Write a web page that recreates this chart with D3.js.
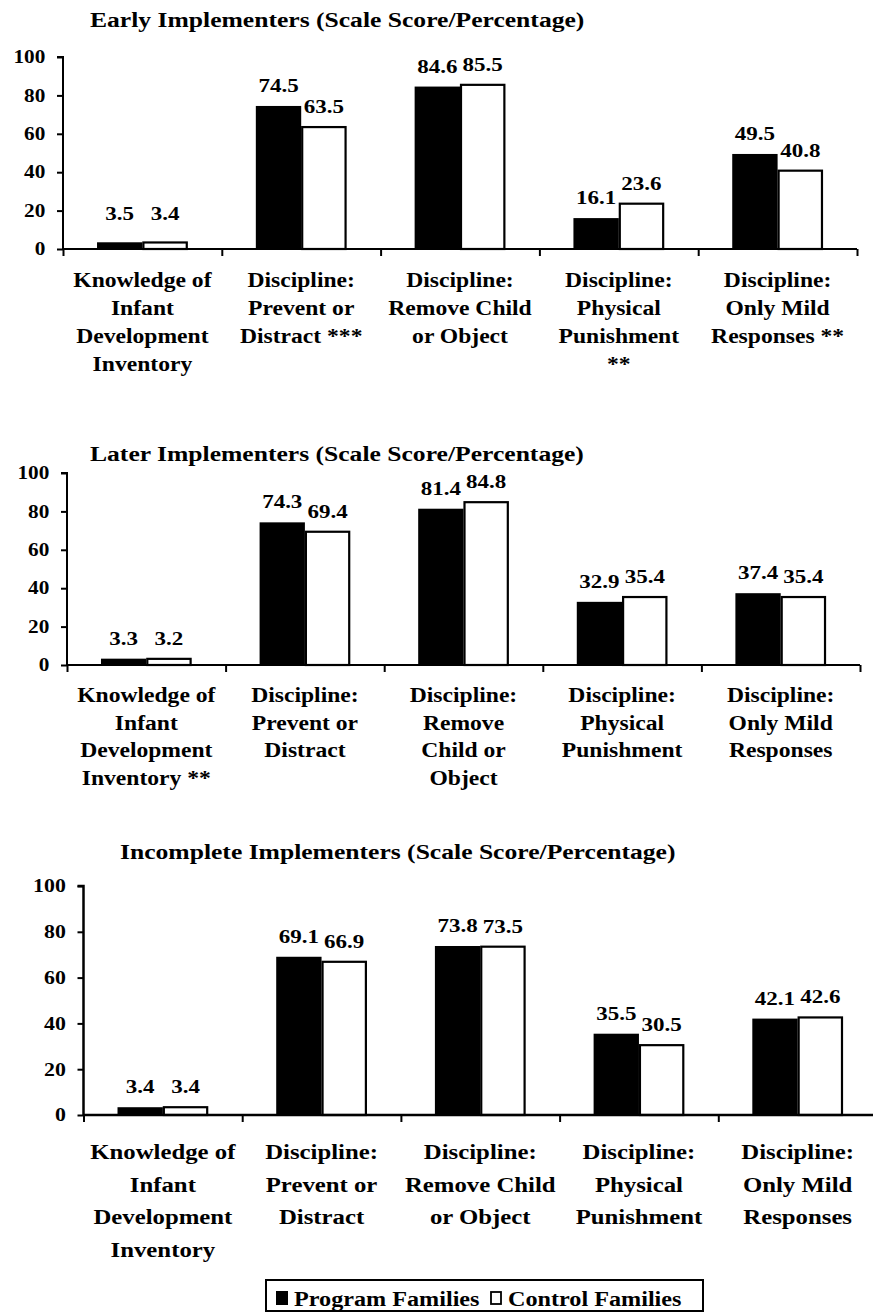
<!DOCTYPE html>
<html><head><meta charset="utf-8">
<script src="https://cdn.jsdelivr.net/npm/d3@7"></script>
<style>
html,body{margin:0;padding:0;background:#fff;}
svg text{font-family:"Liberation Serif","Times New Roman",serif;font-weight:bold;fill:#000;}
</style></head>
<body>
<svg id="chart" width="873" height="1313"></svg>
<script>
// ---------------- DATA ----------------
const seriesNames = ["Program Families", "Control Families"];
const yTicks = [0, 20, 40, 60, 80, 100];

const titles = [
  "Early Implementers (Scale Score/Percentage)",
  "Later Implementers (Scale Score/Percentage)",
  "Incomplete Implementers (Scale Score/Percentage)"
];

const categoriesEarly = [
  ["Knowledge of", "Infant", "Development", "Inventory"],
  ["Discipline:", "Prevent or", "Distract ***"],
  ["Discipline:", "Remove Child", "or Object"],
  ["Discipline:", "Physical", "Punishment", "**"],
  ["Discipline:", "Only Mild", "Responses **"]
];
const programEarly = [3.5, 74.5, 84.6, 16.1, 49.5];
const controlEarly = [3.4, 63.5, 85.5, 23.6, 40.8];

const categoriesLater = [
  ["Knowledge of", "Infant", "Development", "Inventory **"],
  ["Discipline:", "Prevent or", "Distract"],
  ["Discipline:", "Remove", "Child or", "Object"],
  ["Discipline:", "Physical", "Punishment"],
  ["Discipline:", "Only Mild", "Responses"]
];
const programLater = [3.3, 74.3, 81.4, 32.9, 37.4];
const controlLater = [3.2, 69.4, 84.8, 35.4, 35.4];

const categoriesIncomplete = [
  ["Knowledge of", "Infant", "Development", "Inventory"],
  ["Discipline:", "Prevent or", "Distract"],
  ["Discipline:", "Remove Child", "or Object"],
  ["Discipline:", "Physical", "Punishment"],
  ["Discipline:", "Only Mild", "Responses"]
];
const programIncomplete = [3.4, 69.1, 73.8, 35.5, 42.1];
const controlIncomplete = [3.4, 66.9, 73.5, 30.5, 42.6];

// ---------------- LAYOUT ----------------
const SX = 1.18; // horizontal stretch of the scanned lettering
const panels = [
  {title: titles[0], cats: categoriesEarly, prog: programEarly, ctrl: controlEarly,
   left: 63, right: 857, top: 57, bottom: 249, titleX: 90, titleY: 27,
   labY: 287, labDy: 28, axisW: 2, labMin: 8, tickFont: 18, catFont: 20, valFont: 19.5},
  {title: titles[1], cats: categoriesLater, prog: programLater, ctrl: controlLater,
   left: 67, right: 860, top: 473, bottom: 665, titleX: 90, titleY: 461,
   labY: 702, labDy: 27.7, axisW: 2, labMin: 0, tickFont: 18, catFont: 20, valFont: 19.5},
  {title: titles[2], cats: categoriesIncomplete, prog: programIncomplete, ctrl: controlIncomplete,
   left: 83.5, right: 877, top: 886, bottom: 1115, titleX: 120, titleY: 859,
   labY: 1159, labDy: 32.7, axisW: 2.5, labMin: 0, tickFont: 18.5, catFont: 21, valFont: 19.5}
];

const svg = d3.select("#chart");

function stext(g, x, y, s, size, anchor) {
  return g.append("text")
    .attr("transform", `translate(${x},${y}) scale(${SX},1)`)
    .attr("text-anchor", anchor)
    .style("font-size", size + "px")
    .text(s);
}

panels.forEach(p => {
  const g = svg.append("g");
  const idx = d3.range(p.cats.length);
  const y = d3.scaleLinear().domain([0, 100]).range([p.bottom, p.top]);
  const x = d3.scaleBand().domain(idx).range([p.left, p.right])
    .paddingInner(1.5 / 3.5).paddingOuter(0.75 / 3.5);
  const xs = d3.scaleBand().domain(seriesNames).range([0, x.bandwidth()]);
  const xb = d3.scaleLinear().domain([0, p.cats.length]).range([p.left, p.right]);

  // title
  stext(g, p.titleX, p.titleY, p.title, 21.7, "start");

  // bars
  const rows = idx.map(i => ({i, vals: [p.prog[i], p.ctrl[i]]}));
  const grp = g.selectAll(".grp").data(rows).join("g")
    .attr("transform", d => `translate(${x(d.i)},0)`);
  grp.selectAll("rect").data(d => d.vals.map((v, k) => ({v, k})))
    .join("rect")
    .attr("x", d => xs(seriesNames[d.k]) + (d.k ? 1 : 0))
    .attr("y", d => y(d.v))
    .attr("width", d => xs.bandwidth() - (d.k ? 2 : 0))
    .attr("height", d => y(0) - y(d.v))
    .attr("fill", d => d.k ? "#fff" : "#000")
    .attr("stroke", "#000")
    .attr("stroke-width", d => d.k ? 2.2 : 0);
  // value labels
  grp.each(function(d) {
    const gg = d3.select(this);
    d.vals.forEach((v, k) => {
      const cx = xs(seriesNames[k]) + xs.bandwidth() / 2;
      stext(gg, cx, y(Math.max(v, p.labMin)) - 14, v.toFixed(1), p.valFont, "middle");
    });
  });

  // y axis
  const ya = d3.axisLeft(y).tickValues(yTicks).tickSize(6).tickPadding(9).tickFormat(d3.format("d"));
  const yg = g.append("g").attr("transform", `translate(${p.left},0)`).call(ya);
  yg.select(".domain").attr("stroke-width", p.axisW).attr("d", `M-6,${p.top}H0V${p.bottom}`);
  yg.selectAll(".tick line").attr("stroke-width", 2);
  yg.selectAll(".tick text")
    .attr("transform", `scale(${SX},1)`)
    .attr("x", -15)
    .style("font-size", p.tickFont + "px")
    .style("font-family", '"Liberation Serif","Times New Roman",serif')
    .style("font-weight", "bold");

  // x axis (category boundaries)
  const xa = d3.axisBottom(xb).tickValues(d3.range(p.cats.length + 1)).tickSize(7).tickFormat("");
  const xg = g.append("g").attr("transform", `translate(0,${p.bottom})`).call(xa);
  xg.select(".domain").attr("stroke-width", p.axisW).attr("d", `M${p.left},0H${p.right}`);
  xg.selectAll(".tick line").attr("stroke-width", 2);

  // category labels
  p.cats.forEach((lines, i) => {
    const cx = x(i) + x.bandwidth() / 2;
    lines.forEach((ln, j) => stext(g, cx, p.labY + j * p.labDy, ln, p.catFont, "middle"));
  });
});

// legend
const lg = svg.append("g");
lg.append("rect").attr("x", 266).attr("y", 1280).attr("width", 437).attr("height", 31)
  .attr("fill", "#fff").attr("stroke", "#000").attr("stroke-width", 2);
const legendX = [276, 490];
seriesNames.forEach((s, k) => {
  lg.append("rect").attr("x", legendX[k] + (k ? 1 : 0)).attr("y", 1291 + (k ? 1 : 0))
    .attr("width", 12 - (k ? 2 : 0)).attr("height", 14 - (k ? 2 : 0))
    .attr("fill", k ? "#fff" : "#000").attr("stroke", "#000").attr("stroke-width", k ? 1.8 : 0);
  stext(lg, legendX[k] + 18, 1306, s, 20.5, "start");
});
</script>
</body></html>
